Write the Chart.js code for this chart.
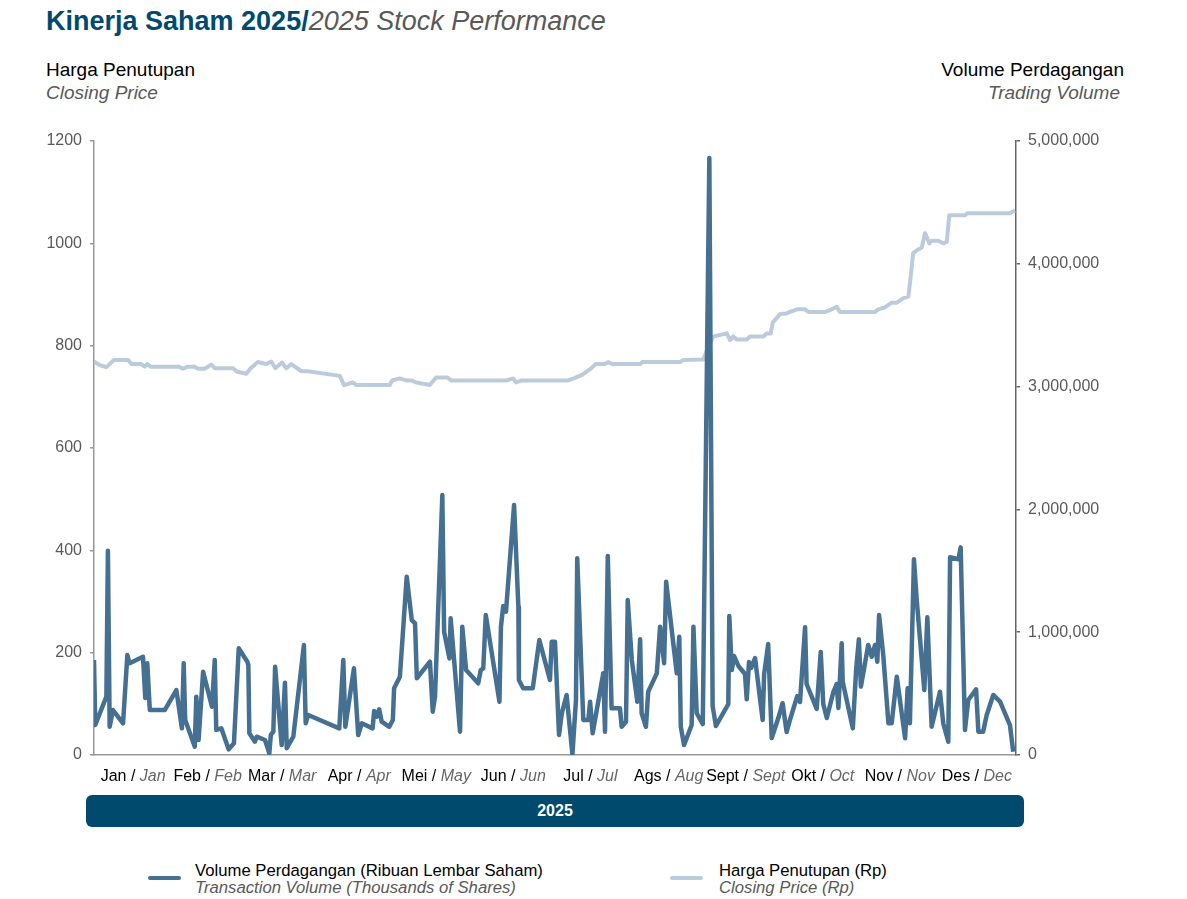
<!DOCTYPE html>
<html lang="id">
<head>
<meta charset="UTF-8">
<title>Kinerja Saham 2025</title>
<style>
  body { margin: 0; width: 1187px; height: 899px; position: relative; background: #fff;
         font-family: 'Liberation Sans', Arial, sans-serif; overflow: hidden; }
  .abs { position: absolute; white-space: nowrap; }
  .it { font-style: italic; color: #595959; }
  #title { left: 46px; top: 6px; font-size: 27px; }
  #title b { color: #004a6e; }
  .axt { font-size: 19px; line-height: 23px; }
  #band { left: 86px; top: 795px; width: 938px; height: 32px; background: #004a6e; border-radius: 6px;
          color: #fff; font-weight: bold; font-size: 16px; text-align: center; line-height: 32px; }
  .leg { font-size: 16.7px; line-height: 17px; }
  .sw { position: absolute; width: 33px; height: 4px; border-radius: 2px; }
  #wrap { position: absolute; left: 0; top: 0; width: 1187px; height: 899px; }
</style>
</head>
<body>
<div class="abs" id="title"><b>Kinerja Saham 2025/</b><span class="it">2025 Stock Performance</span></div>
<div class="abs axt" style="left:46px; top:58px;">Harga Penutupan<br><span class="it">Closing Price</span></div>
<div class="abs axt" style="right:63px; top:58px; text-align:right;">Volume Perdagangan<br><span class="it" style="margin-right:4px;">Trading Volume</span></div>
<div class="abs" id="band">2025</div>

<div class="sw" style="left:148px; top:876px; background:#467092;"></div>
<div class="abs leg" style="left:195px; top:862px;">Volume Perdagangan (Ribuan Lembar Saham)<br><span class="it">Transaction Volume (Thousands of Shares)</span></div>
<div class="sw" style="left:670px; top:876px; background:#bccbdc;"></div>
<div class="abs leg" style="left:719px; top:862px;">Harga Penutupan (Rp)<br><span class="it">Closing Price (Rp)</span></div>

<div id="wrap"><canvas id="myChart"></canvas></div>

<script src="https://cdn.jsdelivr.net/npm/chart.js"></script>
<script>
    // day of year (0 = 1 Jan) and values
    const volumeDays = [0, 0.5, 4.9, 5.5, 6.2, 7.5, 11.5, 13.2, 14.1, 19.4, 20.3, 21.1, 22.1, 28.0, 32.6, 34.8, 35.5, 36.1, 39.9, 40.5,
        41.4, 43.2, 46.7, 47.8, 48.4, 50.4, 53.3, 55.4, 57.3, 60.7, 61.1, 61.5, 63.7, 64.4, 67.7, 69.4, 70.0, 71.0, 71.7, 74.3,
        75.6, 76.3, 78.9, 83.1, 83.8, 84.8, 97.1, 98.7, 99.5, 102.9, 104.6, 106.0, 110.3, 110.9, 111.9, 112.9, 113.9, 116.9, 118.3, 118.8,
        121.1, 123.8, 125.8, 127.1, 127.8, 133.0, 134.1, 135.0, 137.9, 138.6, 140.7, 141.2, 144.9, 145.8, 147.3, 152.1, 153.1, 154.1, 155.1, 160.5,
        161.1, 162.0, 163.1, 166.3, 168.0, 168.2, 169.9, 173.7, 176.3, 180.5, 181.2, 182.5, 184.1, 185.2, 187.1, 189.4, 190.8, 191.3, 193.7, 195.7,
        196.4, 197.4, 201.6, 202.3, 203.4, 204.9, 208.2, 208.9, 210.6, 211.3, 212.9, 215.1, 216.2, 216.8, 218.5, 219.4, 222.8, 224.1, 225.7, 226.5,
        230.7, 231.7, 232.3, 233.6, 236.6, 237.3, 238.6, 241.0, 243.6, 244.9, 246.2, 251.1, 251.5, 252.5, 253.4, 255.1, 257.7, 258.4, 259.3, 260.1,
        261.7, 264.7, 265.3, 266.9, 268.3, 270.9, 272.6, 274.2, 275.5, 278.4, 279.5, 281.5, 282.1, 286.1, 287.7, 288.7, 290.1, 292.7, 294.0, 294.7,
        296.0, 296.4, 300.4, 301.7, 302.8, 303.6, 306.5, 307.9, 309.2, 310.1, 310.8, 312.5, 314.5, 315.8, 317.8, 321.1, 322.1, 323.0, 324.6, 325.7,
        328.7, 329.9, 331.6, 334.9, 336.2, 338.2, 338.9, 342.2, 343.1, 344.8, 346.1, 349.2, 350.1, 352.0, 353.4, 356.0, 358.7, 362.6, 363.9];
    const volumeValues = [774000, 244000, 475000, 1664000, 230000, 366000, 258000, 814000, 747000, 800000, 464000, 747000, 366000, 366000, 529000, 217000, 747000, 285000, 68000, 475000,
        122000, 678000, 393000, 774000, 204000, 217000, 46000, 95000, 869000, 760000, 733000, 177000, 108000, 149000, 122000, 14000, 163000, 190000, 719000, 81000,
        589000, 55000, 149000, 896000, 258000, 326000, 217000, 774000, 230000, 706000, 163000, 258000, 217000, 358000, 312000, 372000, 271000, 230000, 285000, 543000,
        638000, 1452000, 1099000, 1072000, 625000, 760000, 353000, 475000, 2117000, 1004000, 787000, 1113000, 190000, 1045000, 692000, 584000, 692000, 706000, 1140000, 434000,
        1045000, 1213000, 1167000, 2036000, 1208000, 611000, 543000, 543000, 936000, 611000, 923000, 923000, 163000, 340000, 489000, 5000, 448000, 1602000, 285000, 285000,
        434000, 177000, 665000, 190000, 1620000, 380000, 380000, 230000, 271000, 1262000, 774000, 434000, 942000, 340000, 230000, 515000, 665000, 1045000, 747000, 1411000,
        665000, 963000, 230000, 81000, 244000, 1045000, 340000, 252000, 4862000, 399000, 236000, 415000, 1132000, 692000, 806000, 725000, 660000, 454000, 757000, 708000,
        790000, 285000, 660000, 904000, 138000, 301000, 422000, 187000, 285000, 480000, 432000, 1041000, 578000, 376000, 839000, 415000, 301000, 513000, 578000, 383000,
        910000, 597000, 217000, 692000, 942000, 556000, 896000, 800000, 896000, 760000, 1140000, 800000, 258000, 258000, 638000, 136000, 543000, 258000, 1594000, 1262000,
        529000, 1121000, 230000, 515000, 258000, 108000, 1610000, 1594000, 1691000, 204000, 448000, 535000, 190000, 190000, 326000, 489000, 434000, 244000, 27000];

    const priceDays = [0, 2.3, 4.9, 7.9, 13.5, 14.8, 18.7, 20.1, 21.1, 22.4, 33.5, 35.2, 37.2, 39.6, 41.2, 43.8, 46.4, 47.8, 55.0, 56.7,
        60.3, 62.0, 64.9, 68.2, 70.2, 71.8, 74.4, 76.1, 78.1, 82.1, 84.7, 97.3, 99.0, 102.5, 103.9, 117.1, 118.0, 121.0, 123.6, 125.6,
        127.6, 132.9, 135.5, 139.8, 141.4, 163.2, 165.9, 167.2, 169.2, 187.7, 190.4, 193.2, 196.4, 198.7, 202.3, 203.5, 205.1, 216.2, 217.0, 232.0,
        233.2, 241.2, 243.2, 245.2, 250.5, 251.8, 253.1, 254.4, 258.4, 259.7, 265.0, 266.3, 267.9, 268.7, 271.6, 274.2, 275.5, 278.4, 281.5, 282.8,
        289.4, 292.1, 294.0, 295.3, 309.2, 310.5, 313.1, 315.8, 317.8, 320.4, 322.4, 323.3, 324.3, 325.9, 327.7, 329.0, 330.7, 331.6, 334.2, 336.2,
        337.6, 338.6, 344.8, 345.7, 362.6, 364.6];
    const priceValues = [769, 762, 758, 772, 772, 764, 764, 759, 764, 759, 759, 755, 759, 759, 755, 755, 763, 756, 756, 749,
        745, 756, 768, 764, 769, 756, 767, 756, 764, 750, 750, 741, 723, 728, 723, 723, 732, 736, 732, 732,
        728, 723, 738, 738, 732, 732, 736, 728, 732, 732, 737, 743, 754, 764, 764, 768, 764, 764, 768, 768,
        772, 773, 798, 818, 824, 811, 818, 812, 812, 818, 818, 824, 824, 845, 862, 863, 866, 871, 871, 866,
        866, 871, 876, 866, 866, 871, 875, 884, 884, 893, 896, 934, 981, 987, 992, 1020, 1000, 1005, 1005, 1000,
        1003, 1055, 1055, 1059, 1059, 1064];

    // month labels, Indonesian / English, and month boundaries in day of year
    const monthsId = ['Jan', 'Feb', 'Mar', 'Apr', 'Mei', 'Jun', 'Jul', 'Ags', 'Sept', 'Okt', 'Nov', 'Des'];
    const monthsEn = ['Jan', 'Feb', 'Mar', 'Apr', 'May', 'Jun', 'Jul', 'Aug', 'Sept', 'Oct', 'Nov', 'Dec'];
    const monthStart = [0, 31, 59, 90, 120, 151, 181, 212, 243, 273, 304, 334, 365];

    const font = "'Liberation Sans', Arial, sans-serif";

    // two-style month labels under the x axis
    const monthLabels = {
        id: 'monthLabels',
        afterDraw(chart) {
            const ctx = chart.ctx;
            const xs = chart.scales.x;
            const y = chart.chartArea.bottom + 22;
            ctx.save();
            ctx.textBaseline = 'middle';
            ctx.textAlign = 'left';
            for (let i = 0; i < 12; i++) {
                let a = monthsId[i] + ' / ';
                let b = monthsEn[i];
                ctx.font = '16px ' + font;
                let wa = ctx.measureText(a).width;
                ctx.font = 'italic 16px ' + font;
                let wb = ctx.measureText(b).width;
                let cx = xs.getPixelForValue((monthStart[i] + monthStart[i + 1]) / 2);
                let x0 = cx - (wa + wb) / 2;
                ctx.font = '16px ' + font;
                ctx.fillStyle = '#000';
                ctx.fillText(a, x0, y);
                ctx.font = 'italic 16px ' + font;
                ctx.fillStyle = '#666';
                ctx.fillText(b, x0 + wa, y);
            }
            ctx.restore();
        }
    };

    const ctx = document.getElementById('myChart');

    let datasets = [
        {
            label: 'Volume Perdagangan',
            data: volumeDays.map((d, i) => ({ x: d, y: volumeValues[i] })),
            borderColor: '#467092',
            borderWidth: 4.5,
            borderJoinStyle: 'round',
            pointRadius: 0,
            tension: 0,
            yAxisID: 'y1',
        },
        {
            label: 'Harga Penutupan',
            data: priceDays.map((d, i) => ({ x: d, y: priceValues[i] })),
            borderColor: '#bccbdc',
            borderWidth: 4,
            borderJoinStyle: 'round',
            pointRadius: 0,
            tension: 0,
            yAxisID: 'y',
        },
    ];

    let chart = new Chart(ctx, {
        type: 'line',
        data: { datasets: datasets },
        options: {
            responsive: true,
            maintainAspectRatio: false,
            animation: false,
            layout: { padding: { left: 0, right: 0, top: 141, bottom: 144 } },
            plugins: { legend: { display: false }, tooltip: { enabled: false } },
            scales: {
                x: {
                    type: 'linear',
                    min: 0,
                    max: 365,
                    grid: { display: false },
                    ticks: { display: false },
                    border: { display: true, color: '#999', width: 1.5 },
                    afterFit(s) { s.height = 0; },
                },
                y: {
                    position: 'left',
                    min: 0,
                    max: 1200,
                    ticks: { stepSize: 200, padding: 8, color: '#595959', font: { size: 16, family: font },
                             callback: v => String(v) },
                    grid: { drawOnChartArea: false, tickLength: 4, color: '#999', lineWidth: 1.5 },
                    border: { color: '#999', width: 1.5 },
                    afterFit(s) { s.width = 94; },
                },
                y1: {
                    position: 'right',
                    min: 0,
                    max: 5000000,
                    ticks: { stepSize: 1000000, padding: 8, color: '#595959', font: { size: 16, family: font },
                             callback: v => v.toLocaleString('en-US') },
                    grid: { drawOnChartArea: false, tickLength: 4, color: '#666', lineWidth: 1.5 },
                    border: { color: '#666', width: 1.5 },
                    afterFit(s) { s.width = 171; },
                },
            },
        },
        plugins: [monthLabels],
    });
</script>
</body>
</html>
